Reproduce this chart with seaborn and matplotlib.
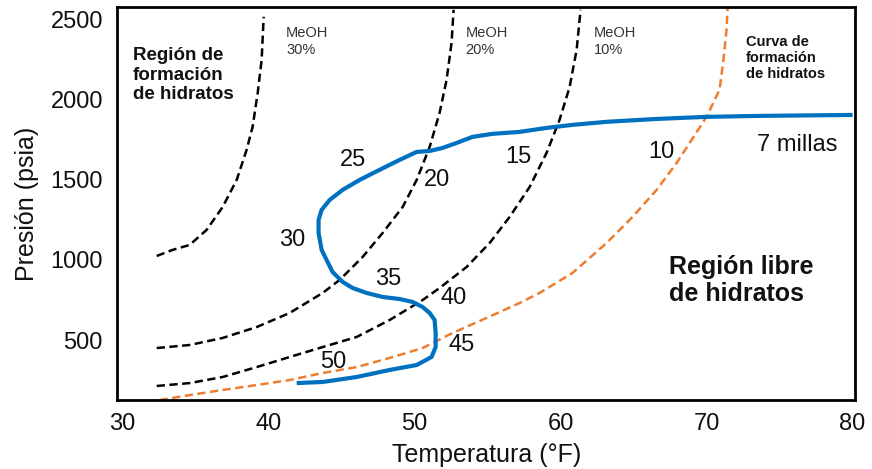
import numpy as np
import pandas as pd
import matplotlib
matplotlib.use("Agg")
import matplotlib.pyplot as plt
import seaborn as sns

# Hydrate formation curves with methanol (temperature °F, pressure psia)
meoh30_t = [32.33, 33.42, 34.59, 35.75, 36.85, 37.81, 38.49, 38.90, 39.25, 39.52, 39.66]
meoh30_p = [1025, 1063, 1094, 1188, 1331, 1500, 1688, 1831, 2044, 2250, 2519]

meoh20_t = [32.33, 34.59, 36.85, 39.18, 41.44, 43.70, 44.86, 46.44, 47.81, 49.18, 50.14,
            51.03, 51.71, 52.19, 52.53, 52.67]
meoh20_p = [450, 469, 513, 581, 669, 794, 875, 1019, 1169, 1331, 1500,
            1706, 1919, 2125, 2356, 2563]

meoh10_t = [32.33, 34.59, 36.85, 39.18, 41.44, 43.70, 46.03, 48.29, 50.55, 51.71, 53.56,
            55.14, 56.51, 57.88, 59.04, 59.93, 60.62, 61.10, 61.37]
meoh10_p = [213, 231, 269, 331, 394, 456, 519, 625, 750, 825, 956,
            1106, 1269, 1456, 1669, 1875, 2081, 2313, 2563]

# Hydrate formation curve without inhibitor
hydrate_t = [32.53, 34.59, 36.85, 39.18, 41.44, 43.70, 46.03, 48.29, 50.55, 52.60, 54.93,
             57.19, 58.56, 60.82, 63.15, 64.93, 66.58, 67.95, 68.84, 70.00, 70.89, 71.16,
             71.37, 71.44]
hydrate_p = [125, 156, 188, 219, 250, 294, 331, 388, 450, 544, 638,
             731, 794, 919, 1106, 1269, 1438, 1606, 1731, 1894, 2063, 2250,
             2438, 2575]

# Pipeline temperature/pressure profile (7 miles)
pipe_t = [41.92, 43.70, 46.03, 48.29, 50.14, 51.16, 51.44, 51.44, 51.37, 51.03, 50.55,
          49.86, 48.97, 47.81, 46.71, 45.75, 45.07, 44.38, 43.97, 43.63, 43.42, 43.42,
          43.63, 44.18, 45.07, 46.23, 47.60, 48.97, 50.14, 51.03, 51.92, 52.88, 53.97,
          55.34, 57.19, 59.04, 60.82, 63.15, 66.58, 70.00, 73.63, 80.00]
pipe_p = [231, 238, 269, 313, 344, 394, 456, 544, 625, 669, 706,
          738, 756, 769, 794, 825, 863, 925, 1000, 1063, 1169, 1250,
          1313, 1375, 1438, 1500, 1563, 1625, 1675, 1681, 1700, 1731, 1769,
          1788, 1800, 1825, 1844, 1863, 1881, 1894, 1900, 1906]

# Distance markers along the pipeline
mile_labels = ["50", "45", "40", "35", "30", "25", "20", "15", "10", "7 millas"]
mile_t = [44.4, 53.2, 52.7, 48.2, 41.6, 45.8, 51.5, 57.1, 66.9, 76.2]
mile_p = [363, 469, 763, 881, 1125, 1625, 1500, 1644, 1675, 1719]

x_ticks = [30, 40, 50, 60, 70, 80]
y_ticks = [500, 1000, 1500, 2000, 2500]

sns.set_style("white")
plt.rcParams["font.family"] = ["Liberation Sans", "DejaVu Sans"]

fig = plt.figure(figsize=(8.72, 4.69), dpi=100)
ax = fig.add_axes([0.134, 0.147, 0.847, 0.838])

black = "#000000"
orange = "#ED7D31"
blue = "#0070C0"

for t, p in [(meoh30_t, meoh30_p), (meoh20_t, meoh20_p), (meoh10_t, meoh10_p)]:
    sns.lineplot(x=t, y=p, ax=ax, color=black, lw=1.8, sort=False, estimator=None)
    ax.lines[-1].set_dashes((3.3, 1.8))

sns.lineplot(x=hydrate_t, y=hydrate_p, ax=ax, color=orange, lw=1.8, sort=False, estimator=None)
ax.lines[-1].set_dashes((3.3, 1.8))

sns.lineplot(x=pipe_t, y=pipe_p, ax=ax, color=blue, lw=3.0, sort=False, estimator=None)
ax.lines[-1].set_solid_joinstyle("round")
ax.lines[-1].set_solid_capstyle("butt")

for lab, t, p in zip(mile_labels, mile_t, mile_p):
    ax.text(t, p, lab, fontsize=17, ha="center", va="center", color="#111111")

for t, pct in [(41.2, "30%"), (53.5, "20%"), (62.3, "10%")]:
    ax.text(t, 2462, "MeOH\n" + pct, fontsize=10.5, color="#333333",
            va="top", ha="left", linespacing=1.25)

ax.text(30.7, 2330, "Región de\nformación\nde hidratos", fontsize=13.5, fontweight="bold",
        va="top", ha="left", linespacing=1.2, color="#111111")
ax.text(72.7, 2406, "Curva de\nformación\nde hidratos", fontsize=10.5, fontweight="bold",
        va="top", ha="left", linespacing=1.2, color="#111111")
ax.text(67.4, 1030, "Región libre\nde hidratos", fontsize=18, fontweight="bold",
        va="top", ha="left", linespacing=1.15, color="#111111")

ax.set_xlim(29.6, 80.2)
ax.set_ylim(125, 2580)
ax.set_xticks(x_ticks)
ax.set_yticks(y_ticks)
ax.tick_params(axis="both", length=0, labelsize=17, colors="#111111")
ax.tick_params(axis="x", pad=9)
ax.tick_params(axis="y", pad=10)
ax.set_xlabel("Temperatura (°F)", fontsize=18, color="#111111", labelpad=6)
ax.set_ylabel("Presión (psia)", fontsize=18, color="#111111", labelpad=8)

for s in ax.spines.values():
    s.set_visible(True)
    s.set_color("black")
    s.set_linewidth(2)

fig.savefig("out.png", dpi=100, facecolor="white")
